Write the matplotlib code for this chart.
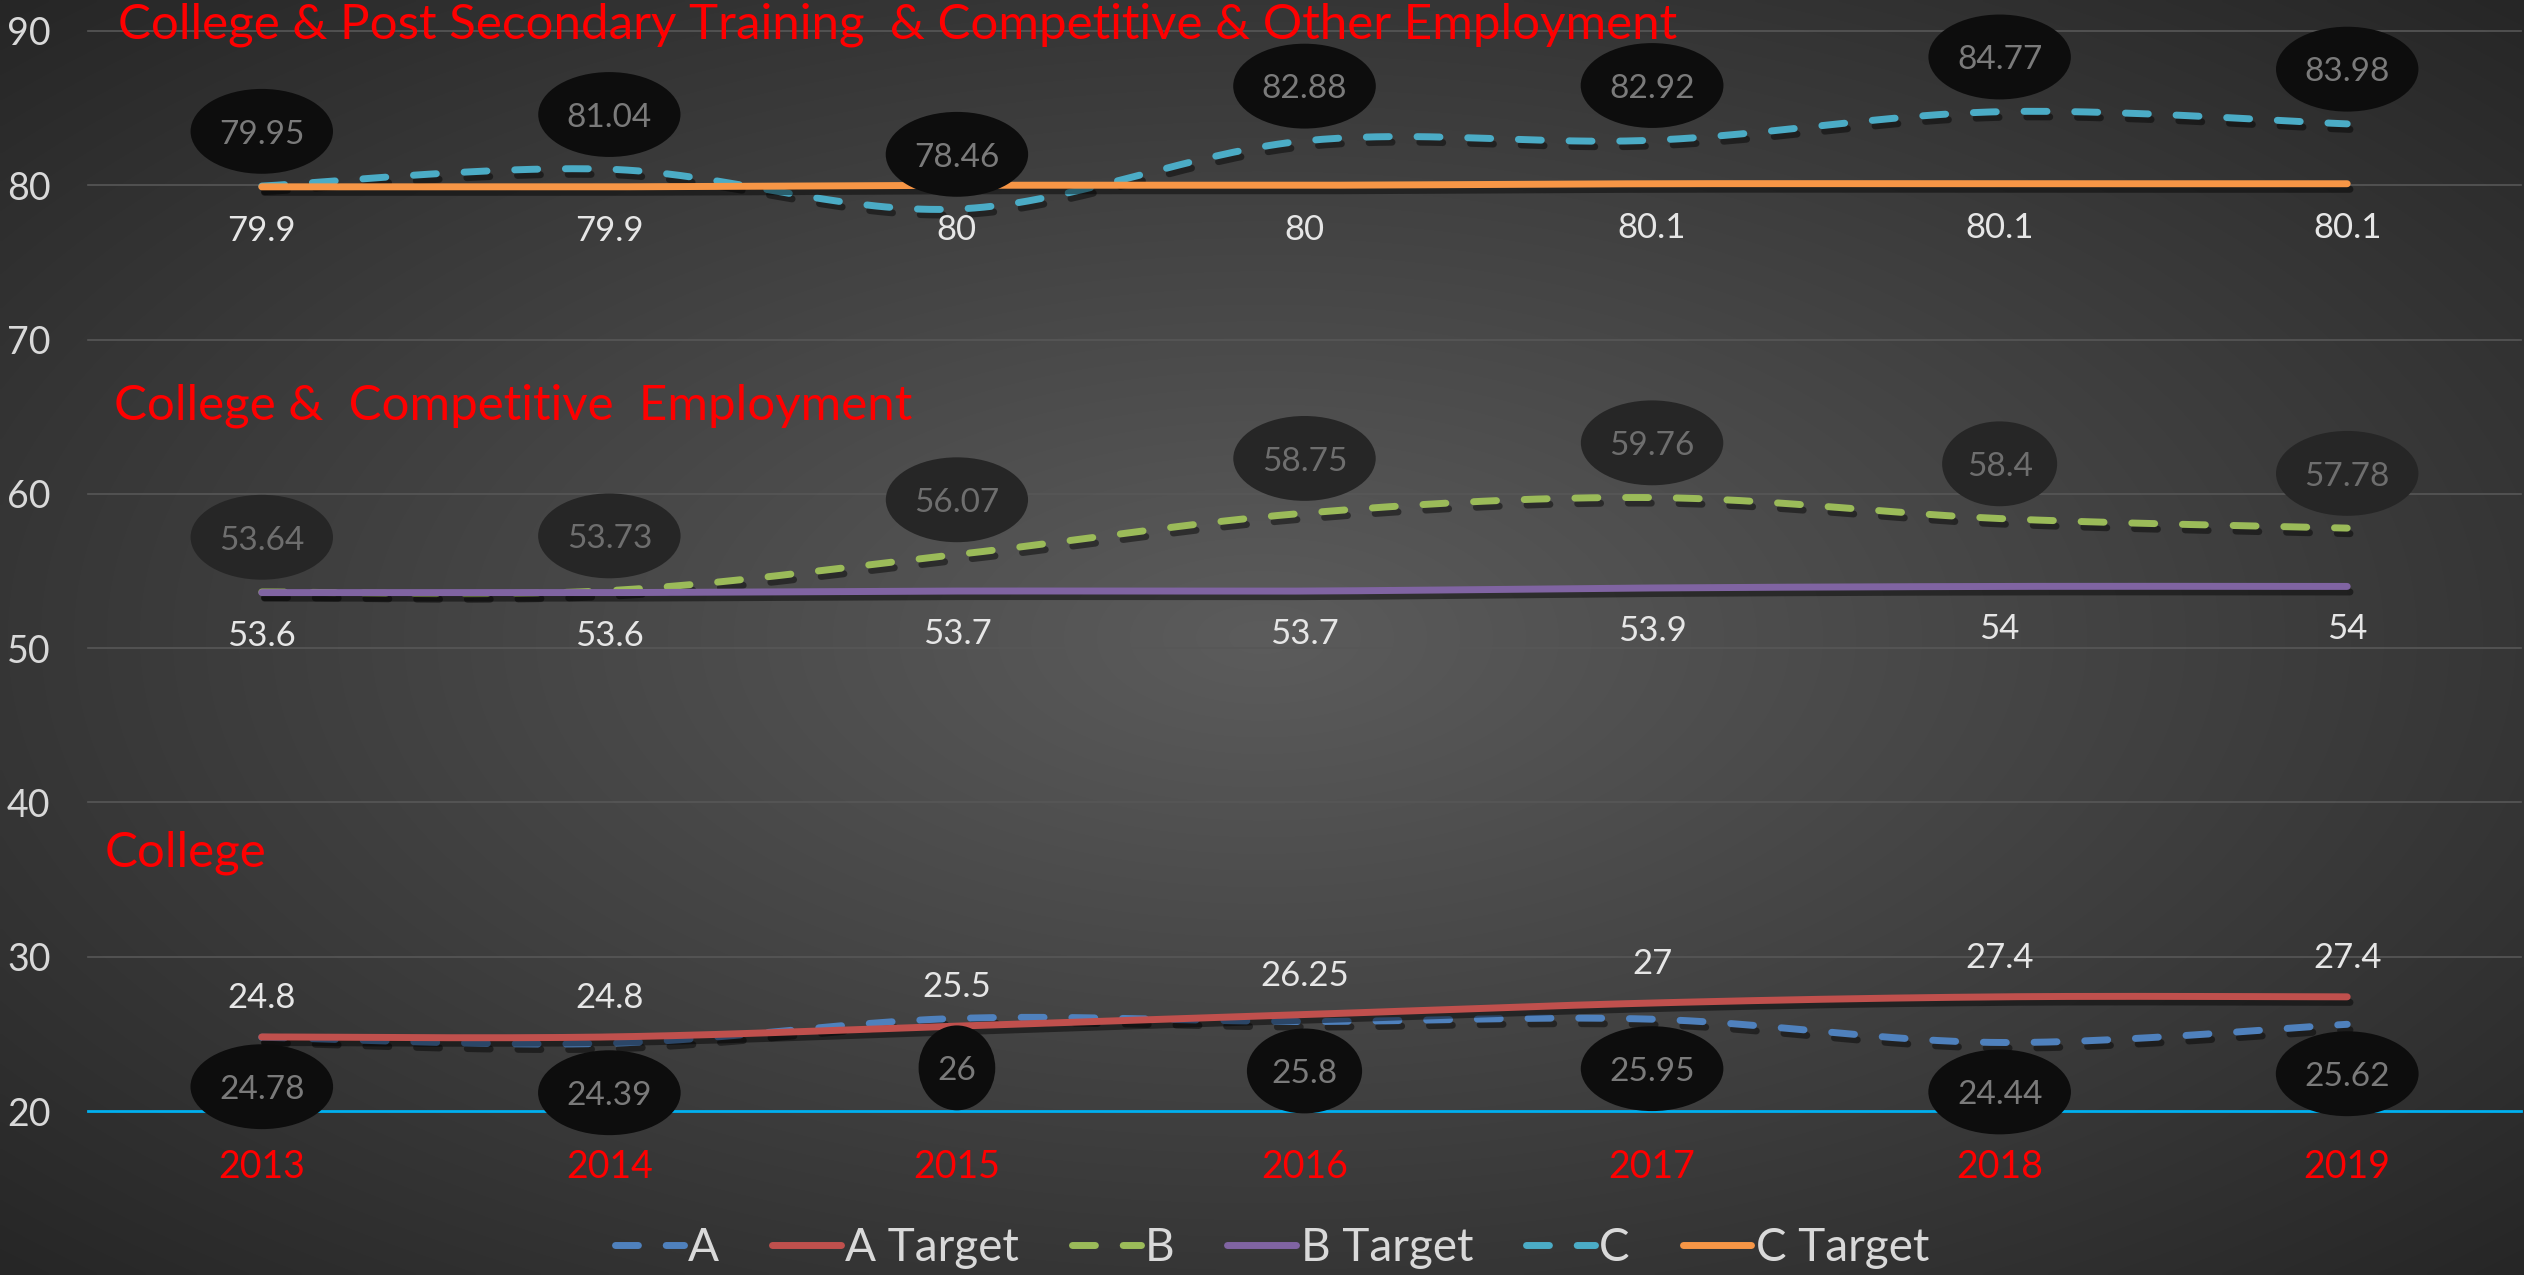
import numpy as np
import matplotlib
matplotlib.use('Agg')
import matplotlib.pyplot as plt
import matplotlib.patheffects as pe
from matplotlib.lines import Line2D
from matplotlib.path import Path
from matplotlib.transforms import Affine2D

plt.rcParams['font.family'] = ['Lato', 'DejaVu Sans']

# ---- data ----
years = ['2013', '2014', '2015', '2016', '2017', '2018', '2019']
a_vals = [24.78, 24.39, 26, 25.8, 25.95, 24.44, 25.62]
a_target = [24.8, 24.8, 25.5, 26.25, 27, 27.4, 27.4]
b_vals = [53.64, 53.73, 56.07, 58.75, 59.76, 58.4, 57.78]
b_target = [53.6, 53.6, 53.7, 53.7, 53.9, 54, 54]
c_vals = [79.95, 81.04, 78.46, 82.88, 82.92, 84.77, 83.98]
c_target = [79.9, 79.9, 80, 80, 80.1, 80.1, 80.1]
y_ticks = [20, 30, 40, 50, 60, 70, 80, 90]
section_titles = ['College & Post Secondary Training  & Competitive & Other Employment',
                  'College &  Competitive  Employment',
                  'College']

W, H = 2524, 1275


def smooth(vals, n=40):
    # excel-like smoothed line: bezier segments through the points
    x = np.arange(len(vals), dtype=float)
    y = np.asarray(vals, dtype=float)
    px = np.concatenate([[x[0]], x, [x[-1]]])
    py = np.concatenate([[y[0]], y, [y[-1]]])
    t = np.linspace(0, 1, n)[:, None]
    out = []
    for i in range(len(y) - 1):
        p0 = np.array([px[i], py[i]])
        p1 = np.array([px[i + 1], py[i + 1]])
        p2 = np.array([px[i + 2], py[i + 2]])
        p3 = np.array([px[i + 3], py[i + 3]])
        c1 = p1 + (p2 - p0) / 6.0
        c2 = p2 - (p3 - p1) / 6.0
        seg = ((1 - t) ** 3) * p1 + 3 * ((1 - t) ** 2) * t * c1 + 3 * (1 - t) * t ** 2 * c2 + t ** 3 * p2
        out.append(seg if i == 0 else seg[1:])
    out = np.vstack(out)
    return out[:, 0], out[:, 1]


def ellipse_box(x0, y0, width, height, mutation_size):
    # callout ellipse with more vertical padding than horizontal,
    # nudged up a little so the digits sit in the middle
    padx = 0.23 * mutation_size
    pady = 0.45 * mutation_size
    w = width + 2 * padx
    h = height + 2 * pady
    a = w / np.sqrt(2)
    b = h / np.sqrt(2)
    trans = Affine2D().scale(a, b).translate(x0 + width / 2, y0 + height / 2 + 0.1 * mutation_size)
    return trans.transform_path(Path.unit_circle())


fig = plt.figure(figsize=(W / 100, H / 100), dpi=100)

# radial background
bg = fig.add_axes([0, 0, 1, 1], zorder=0)
yy, xx = np.mgrid[0:1:320j, 0:1:640j]
r = np.sqrt(((xx - 0.5) / 0.5) ** 2 + ((yy - 0.5) / 0.5) ** 2) / np.sqrt(2)
shade = (92 - (92 - 38) * np.clip(r, 0, 1)) / 255.0
img = np.dstack([shade, shade, shade])
bg.imshow(img, extent=(0, 1, 0, 1), aspect='auto', interpolation='bilinear')
bg.set_xlim(0, 1)
bg.set_ylim(0, 1)
bg.axis('off')

ax = fig.add_axes([88 / W, 1 - 1111 / H, (2521 - 88) / W, (1111 - 31) / H], zorder=1)
ax.patch.set_alpha(0)
ax.set_xlim(-0.5, 6.5)
ax.set_ylim(20, 90)
for s in ax.spines.values():
    s.set_visible(False)
ax.set_yticks(y_ticks)
ax.set_xticks(range(len(years)))
ax.set_xticklabels(years)
ax.tick_params(axis='y', length=0, pad=27, labelsize=27, labelcolor='#d9d9d9')
ax.tick_params(axis='x', length=0, pad=27, labelsize=27, labelcolor='#ff0000')
for yt in y_ticks[1:]:
    ax.axhline(yt, color='#575757', lw=1.2, zorder=1, clip_on=False)
ax.axhline(20, color='#00b0f0', lw=2, zorder=2, clip_on=False)

shadow = [pe.SimpleLineShadow(offset=(2, -4), shadow_color='black', alpha=0.45), pe.Normal()]
dash = (0, (3.3, 4.0))

series = [
    ('A', a_vals, '#4f81bd', dash),
    ('A Target', a_target, '#c0504d', '-'),
    ('B', b_vals, '#9bbb59', dash),
    ('B Target', b_target, '#8064a2', '-'),
    ('C', c_vals, '#4bacc6', dash),
    ('C Target', c_target, '#f79646', '-'),
]
handles = []
for k, (name, vals, col, ls) in enumerate(series):
    sx, sy = smooth(vals)
    ax.plot(sx, sy, color=col, lw=5, linestyle=ls, dash_capstyle='round',
            solid_capstyle='round', path_effects=shadow, zorder=3 + k)
    handles.append(Line2D([0], [0], color=col, lw=5, linestyle=ls,
                          dash_capstyle='round', solid_capstyle='round'))

# value labels
ell_a = dict(boxstyle=ellipse_box, fc='#0d0d0d', ec='none')
ell_b = dict(boxstyle=ellipse_box, fc='#262626', ec='none')
for i in range(len(years)):
    ax.annotate('{:g}'.format(c_vals[i]), (i, c_vals[i]), xytext=(0, 37), textcoords='offset points',
                ha='center', va='center', fontsize=24, color='#7a7a7a', bbox=ell_a, zorder=20)
    ax.annotate('{:g}'.format(b_vals[i]), (i, b_vals[i]), xytext=(0, 37), textcoords='offset points',
                ha='center', va='center', fontsize=24, color='#6e6e6e', bbox=ell_b, zorder=20)
    ax.annotate('{:g}'.format(a_vals[i]), (i, a_vals[i]), xytext=(0, -38), textcoords='offset points',
                ha='center', va='center', fontsize=24, color='#7a7a7a', bbox=ell_a, zorder=20)
    ax.annotate('{:g}'.format(c_target[i]), (i, c_target[i]), xytext=(0, -32), textcoords='offset points',
                ha='center', va='center', fontsize=25, color='#e6e6e6', zorder=20)
    ax.annotate('{:g}'.format(b_target[i]), (i, b_target[i]), xytext=(0, -31), textcoords='offset points',
                ha='center', va='center', fontsize=25, color='#e6e6e6', zorder=20)
    ax.annotate('{:g}'.format(a_target[i]), (i, a_target[i]), xytext=(0, 28), textcoords='offset points',
                ha='center', va='center', fontsize=25, color='#e6e6e6', zorder=20)

# section titles
fig.text(118 / W, 1 - 25 / H, section_titles[0], color='#ff0000', fontsize=35.5, va='center', ha='left', zorder=30)
fig.text(114 / W, 1 - 406 / H, section_titles[1], color='#ff0000', fontsize=35.5, va='center', ha='left', zorder=30)
fig.text(105 / W, 1 - 853 / H, section_titles[2], color='#ff0000', fontsize=35.5, va='center', ha='left', zorder=30)

fig.legend(handles, [s[0] for s in series], loc='center', bbox_to_anchor=(1272 / W, 1 - 1248 / H),
           ncol=6, frameon=False, fontsize=33, handlelength=1.5, handletextpad=0.1,
           columnspacing=1.15, labelcolor='#d9d9d9')

fig.savefig('out.png', dpi=100)
